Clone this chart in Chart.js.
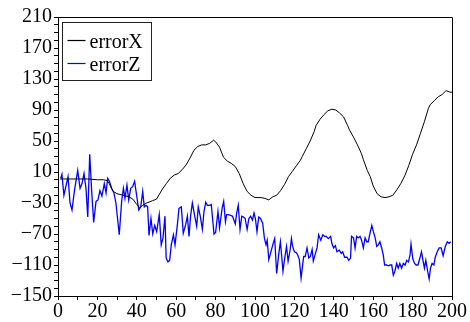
<!DOCTYPE html>
<html>
<head>
    <title>errorX / errorZ</title>
    <script src="https://cdn.jsdelivr.net/npm/chart.js"></script>
    <style>
        body { margin: 0; background: #fff; }
        .chart-container { width: 470px; height: 322px; }
    </style>
</head>
<body>
    <div class="chart-container">
        <canvas id="chartjs" width="470" height="322"></canvas>
    </div>

    <script>
        const xTicks = [0, 20, 40, 60, 80, 100, 120, 140, 160, 180, 200];
        const yTicks = [-150, -110, -70, -30, 10, 50, 90, 130, 170, 210];

        const errorXPos = [1, 5, 10, 15, 20, 23, 25, 26, 28, 30, 33, 36, 38, 40, 41.5, 43, 45, 48, 50, 53, 55, 57, 59, 61, 63, 65, 67, 69, 71, 73, 75, 77, 79, 80, 82, 84, 86, 88, 90, 92, 94, 96, 98, 100, 103, 105, 107, 109, 111, 113, 115, 117, 119, 121, 123, 124, 126, 128, 130, 131, 133, 135, 137, 139, 141, 143, 145, 147, 148, 150, 152, 154, 155, 157, 158.5, 160, 162, 164, 166, 168, 170, 172, 174, 176, 178, 180, 182, 184, 186, 188, 189, 191, 193, 195, 197, 198, 199, 200];
        const errorXVal = [1, 1, 1, 1, 0, 0, -1, -5, -15, -18, -20, -22, -25, -32, -36, -33, -30, -27, -25, -12, -5, 2, 6, 8, 13, 19, 28, 38, 43, 45, 45, 47, 51, 49, 42, 29, 24, 21, 17, 8, -5, -15, -20, -23, -23, -24, -26, -22, -20, -14, -6, 4, 11, 18, 25, 30, 40, 50, 62, 70, 78, 84, 89, 91, 90, 86, 81, 70, 64, 55, 45, 34, 26, 12, 4, -8, -18, -22, -23, -22, -20, -13, -5, 5, 18, 33, 45, 60, 75, 92, 97, 102, 107, 110, 115, 114, 113, 113];

        const errorZPos = [1.4, 2, 3, 5.1, 6.1, 7.1, 8.3, 10, 11.2, 12.2, 13.2, 14.2, 15.1, 16.1, 17.1, 18.1, 19.3, 20.3, 21.3, 22.3, 23.5, 24.4, 25.2, 26.1, 27.2, 28.4, 29.4, 31.1, 32.3, 33.2, 34, 35, 35.9, 36.9, 37.9, 38.9, 39.9, 41, 42, 43, 43.8, 44.7, 45.5, 46.2, 47.2, 48.1, 49.1, 50.1,
            51.4, 52.4, 53.3, 54.3, 54.9, 55.8, 56.7, 57.5, 58.6, 59.4, 60.6, 61.4, 62.6, 63.6, 64.8, 65.7, 66.5, 67.3, 68.2, 69.4, 70.4, 71.2, 72.2, 73.3, 74.1, 75, 75.8, 77, 77.8, 79.2, 80, 81.2, 82, 83.3, 84.1, 85, 85.6, 86.5, 87.6, 88.6, 90, 90.7, 91.5, 92.4, 93.3, 94.2, 95, 96, 96.9, 97.8, 98.7, 99.5,
            100.2, 101, 101.9, 102.8, 103.9, 104.8, 105.6, 106.2, 107, 108.2, 109, 110, 111, 112, 112.9, 113.7, 114.2, 115.2, 116, 116.8, 117.8, 118.5, 119.1, 120, 120.9, 121.7, 122.5, 123.4, 124.7, 125.5, 126.4, 127.3, 128.1, 129, 129.6, 130.6, 131.5, 132.3, 133.4, 134.4, 135.3, 136.2, 137.2, 138.4, 139, 139.9, 140.8, 141.6, 142.8, 143.8, 144.5, 145.5, 146.7, 147.6, 148.5,
            149, 150, 150.8, 151.6, 152.5, 153.3, 154.1, 155, 155.9, 156.7, 157.5, 158.4, 159.3, 160.1, 161, 161.8, 162.6, 163.4, 164.3, 165.1, 165.8, 166.8, 167.7, 168.6, 169.4, 170.2, 171, 171.9, 172.7, 173.5, 174.4, 175.3, 176.2, 177, 177.9, 178.7, 179.2, 180.1, 181, 181.8, 182.7, 183.6, 184.5, 185.4, 186, 186.7, 187.7, 188.4, 189.1, 189.9, 190.8, 191.5, 192.5, 193.5, 194.5, 195.5, 196.6, 197.6, 198.5, 199.3];
        const errorZVal = [2, 7, -20, 4, -30, -39, -15, 12, -11, -5, 8, -11, -48, 33, -15, -55, -28, -26, -14, -21, -5, -17, 2, -2, -11, -17, -30, -71, -28, -11, -24, -7, -26, -11, -9, -2, -20, -39, -35, -15, -35, -33, -35, -72, -50, -70, -59, -67,
            -45, -84, -75, -47, -101, -106, -104, -84, -71, -84, -58, -37, -35, -69, -58, -47, -73, -47, -30, -47, -60, -35, -47, -64, -41, -29, -33, -33, -32, -70, -68, -41, -62, -37, -28, -54, -45, -45, -46, -47, -57, -43, -33, -64, -47, -48, -50, -64, -50, -47, -52, -43,
            -50, -67, -48, -50, -56, -76, -84, -78, -103, -92, -84, -76, -121, -97, -80, -103, -118, -99, -86, -105, -91, -76, -86, -93, -94, -97, -103, -127, -99, -99, -88, -101, -99, -90, -105, -96, -88, -71, -78, -71, -73, -73, -76, -73, -82, -88, -85, -93, -91, -95, -93, -100, -100, -104, -101,
            -73, -75, -88, -73, -75, -73, -78, -88, -75, -80, -80, -69, -59, -67, -75, -86, -84, -80, -88, -97, -110, -110, -111, -110, -110, -123, -118, -108, -114, -108, -114, -108, -110, -104, -106, -97, -83, -102, -108, -110, -110, -102, -93, -106, -114, -104, -119, -128, -114, -108, -110, -100, -93, -88, -88, -98, -86, -80, -82, -80];

        const FONT = '"Liberation Serif", "DejaVu Serif", serif';

        const toPoints = (xs, ys) => xs.map((x, i) => ({ x: x, y: ys[i] }));

        // frame on top/right plus the boxed legend inside the plot
        const frameLegend = {
            id: 'frameLegend',
            afterDraw: (chart) => {
                const ctx = chart.ctx;
                const a = chart.chartArea;
                ctx.save();
                ctx.strokeStyle = '#000';
                ctx.lineWidth = 1;
                ctx.beginPath();
                ctx.moveTo(a.left, a.top + 0.5);
                ctx.lineTo(a.right + 0.5, a.top + 0.5);
                ctx.lineTo(a.right + 0.5, a.bottom);
                ctx.stroke();

                const bx = a.left + 4.5, by = a.top + 5.5, bw = 89, bh = 58;
                ctx.fillStyle = '#fff';
                ctx.fillRect(bx, by, bw, bh);
                ctx.strokeStyle = '#222';
                ctx.strokeRect(bx, by, bw, bh);

                ctx.font = '20px ' + FONT;
                ctx.textBaseline = 'middle';
                ctx.textAlign = 'left';
                chart.data.datasets.forEach((ds, i) => {
                    const y = by + 18 + i * 23;
                    ctx.strokeStyle = ds.borderColor;
                    ctx.lineWidth = 1.2;
                    ctx.beginPath();
                    ctx.moveTo(bx + 5, y);
                    ctx.lineTo(bx + 23, y);
                    ctx.stroke();
                    ctx.fillStyle = '#000';
                    ctx.fillText(ds.label, bx + 27, y + 2);
                });
                ctx.restore();
            }
        };

        new Chart(document.getElementById('chartjs'), {
            type: 'line',
            data: {
                datasets: [{
                    label: 'errorX',
                    data: toPoints(errorXPos, errorXVal),
                    borderColor: '#000000',
                    borderWidth: 1,
                    pointRadius: 0,
                    tension: 0
                },
                {
                    label: 'errorZ',
                    data: toPoints(errorZPos, errorZVal),
                    borderColor: '#0000ff',
                    borderWidth: 1.3,
                    pointRadius: 0,
                    tension: 0
                }]
            },
            plugins: [frameLegend],
            options: {
                responsive: false,
                animation: false,
                layout: {
                    padding: { top: 17, right: 18, left: 0, bottom: 0 }
                },
                scales: {
                    x: {
                        type: 'linear',
                        min: xTicks[0],
                        max: xTicks[xTicks.length - 1],
                        afterFit: (scale) => { scale.height = 26; },
                        grid: { drawOnChartArea: false, drawTicks: true, tickLength: 4, color: '#000' },
                        border: { color: '#000', width: 1 },
                        ticks: {
                            stepSize: 10,
                            autoSkip: false,
                            maxRotation: 0,
                            padding: 0,
                            color: '#000',
                            font: { family: FONT, size: 20 },
                            callback: (v) => xTicks.includes(v) ? String(v) : ''
                        }
                    },
                    y: {
                        type: 'linear',
                        min: yTicks[0],
                        max: yTicks[yTicks.length - 1],
                        afterFit: (scale) => { scale.width = 58; },
                        grid: { drawOnChartArea: false, drawTicks: true, tickLength: 4, color: '#000' },
                        border: { color: '#000', width: 1 },
                        ticks: {
                            stepSize: 10,
                            autoSkip: false,
                            padding: 2,
                            color: '#000',
                            font: { family: FONT, size: 20 },
                            callback: (v) => yTicks.includes(v) ? String(v).replace('-', '\u2212') : ''
                        }
                    }
                },
                plugins: {
                    legend: { display: false },
                    tooltip: { enabled: false }
                }
            }
        });
    </script>
</body>
</html>
